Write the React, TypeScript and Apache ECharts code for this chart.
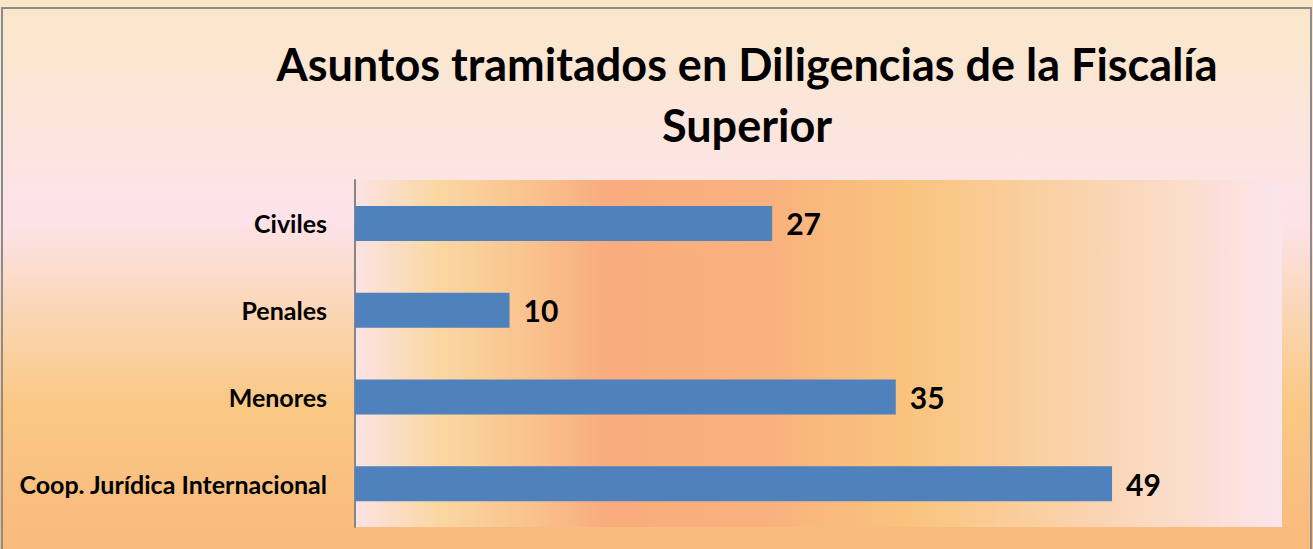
import React, { useEffect, useRef } from "react";
import * as echarts from "echarts";

const titleText = "Asuntos tramitados en Diligencias de la Fiscalía\nSuperior";
const categories = ["Civiles", "Penales", "Menores", "Coop. Jurídica Internacional"];
const values = [27, 10, 35, 49];
const axisMax = 60;

export default function App() {
  const ref = useRef<HTMLDivElement>(null);
  useEffect(() => {
    if (!ref.current) return;
    const chart = echarts.init(ref.current, null, { renderer: "svg" });
    chart.setOption({
      animation: false,
      backgroundColor: new echarts.graphic.LinearGradient(0, 0, 0, 1, [
        { offset: 0, color: "#FAE7C8" },
        { offset: 0.2, color: "#FCE6DA" },
        { offset: 0.4, color: "#FDE3EA" },
        { offset: 0.57, color: "#FAD6B4" },
        { offset: 0.74, color: "#FAC884" },
        { offset: 1, color: "#F9BA7D" },
      ]),
      title: {
        text: titleText,
        left: 742,
        textAlign: "center",
        top: 28,
        textStyle: {
          fontFamily: "Lato",
          fontWeight: "bold",
          fontSize: 45,
          lineHeight: 61,
          color: "#000",
        },
      },
      graphic: [
        {
          type: "rect",
          shape: { x: 2, y: 8, width: 1309, height: 560 },
          style: { fill: "none", stroke: "#8C8C8C", lineWidth: 2 },
          z: 100,
        },
      ],
      grid: {
        left: 355,
        right: 31,
        top: 180,
        bottom: 22,
        show: true,
        borderWidth: 0,
        backgroundColor: new echarts.graphic.LinearGradient(0, 0, 1, 0, [
          { offset: 0, color: "#FCE3E4" },
          { offset: 0.09, color: "#FAD7A2" },
          { offset: 0.2, color: "#F9C08C" },
          { offset: 0.27, color: "#F9AC7D" },
          { offset: 0.45, color: "#F9B27E" },
          { offset: 0.6, color: "#F9C47E" },
          { offset: 0.75, color: "#FAD0A4" },
          { offset: 0.88, color: "#FBDCC8" },
          { offset: 1, color: "#FCE4EC" },
        ]),
      },
      xAxis: {
        type: "value",
        min: 0,
        max: axisMax,
        show: false,
        splitLine: { show: false },
      },
      yAxis: {
        type: "category",
        data: categories,
        inverse: true,
        axisLine: { show: true, lineStyle: { color: "#868686", width: 2 } },
        axisTick: { show: false },
        axisLabel: {
          margin: 28,
          fontFamily: "Lato",
          fontWeight: "bold",
          fontSize: 25,
          color: "#000",
        },
      },
      series: [
        {
          type: "bar",
          data: values,
          barWidth: 35,
          itemStyle: { color: "#4F81BD" },
          label: {
            show: true,
            position: "right",
            distance: 14,
            fontFamily: "Lato",
            fontWeight: "bold",
            fontSize: 30,
            color: "#000",
          },
        },
      ],
    });
    return () => chart.dispose();
  }, []);
  return (
    <div
      ref={ref}
      style={{ position: "absolute", left: 0, top: 0, width: 1313, height: 549 }}
    />
  );
}
